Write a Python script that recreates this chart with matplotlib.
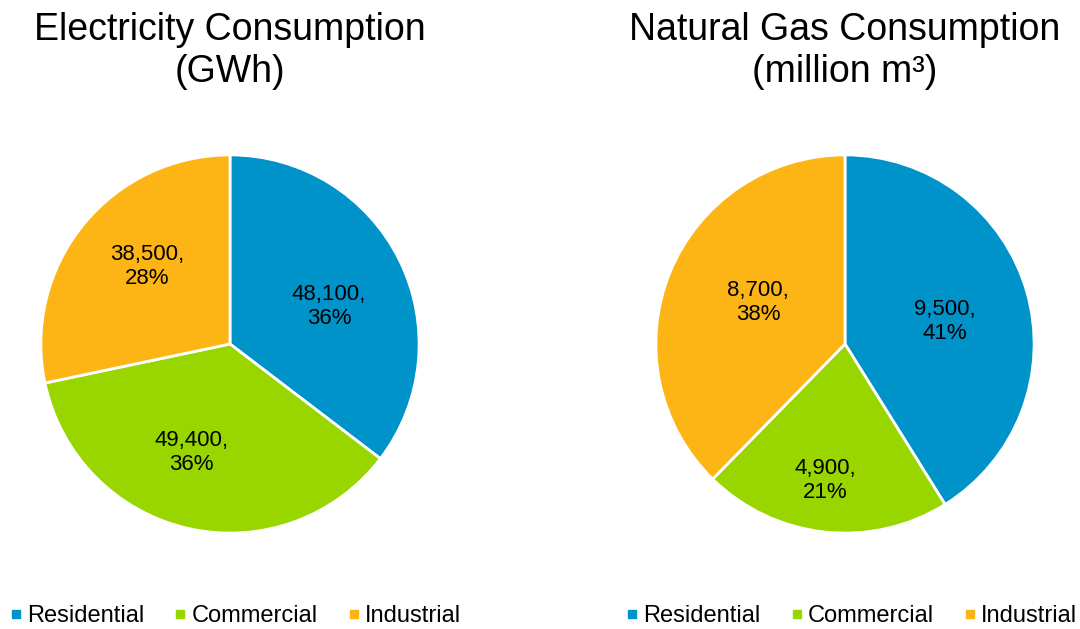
import matplotlib
matplotlib.use("Agg")
import math
import matplotlib.pyplot as plt
from matplotlib.lines import Line2D

plt.rcParams["font.family"] = ["Liberation Sans", "DejaVu Sans"]

CATEGORIES = ["Residential", "Commercial", "Industrial"]
COLORS = ["#0093C9", "#99D600", "#FDB515"]

ELEC_TITLE = "Electricity Consumption\n(GWh)"
ELEC_VALUES = [48100, 49400, 38500]
ELEC_PCT = ["36%", "36%", "28%"]

GAS_TITLE = "Natural Gas Consumption\n(million m³)"
GAS_VALUES = [9500, 4900, 8700]
GAS_PCT = ["41%", "21%", "38%"]

W, H = 1080, 629


def draw_pie(fig, cx, legend_x, title, values, pcts, label_r, label_dang):
    r = 191
    ax = fig.add_axes([(cx - r) / W, (H - 344 - r) / H, 2 * r / W, 2 * r / H])
    wedges, texts = ax.pie(
        values,
        colors=COLORS,
        startangle=90,
        counterclock=False,
        radius=1.0,
        wedgeprops={"edgecolor": "white", "linewidth": 2.0},
        labels=[f"{v:,},\n{p}" for v, p in zip(values, pcts)],
        labeldistance=0.6,
        textprops={"fontsize": 16, "color": "black", "ha": "center", "va": "center",
                   "linespacing": 1.2},
    )
    # nudge labels towards the spots Excel picked
    for t, k, da in zip(texts, label_r, label_dang):
        x, y = t.get_position()
        ang = math.atan2(y, x) + math.radians(da)
        t.set_position((k * math.cos(ang), k * math.sin(ang)))
        t.set_ha("center")
        t.set_va("center")
    ax.set_xlim(-1.01, 1.01)
    ax.set_ylim(-1.01, 1.01)
    ax.set_aspect("equal")
    fig.text(cx / W, 1 - 12 / H, title, ha="center", va="top", fontsize=27,
             linespacing=1.2)
    handles = [Line2D([], [], marker="s", linestyle="none", markersize=5.8,
                      markerfacecolor=c, markeredgecolor=c) for c in COLORS]
    fig.legend(handles, CATEGORIES, loc="center", bbox_to_anchor=(legend_x / W, 1 - 616 / H),
               ncol=3, frameon=False, fontsize=17, handlelength=0.5,
               handletextpad=0.22, columnspacing=1.28, borderpad=0, borderaxespad=0)


fig = plt.figure(figsize=(W / 100, H / 100), dpi=100)
draw_pie(fig, 230, 235.5, ELEC_TITLE, ELEC_VALUES, ELEC_PCT,
         [0.56, 0.61, 0.6], [-5.5, -6.7, -4.2])
draw_pie(fig, 845, 852, GAS_TITLE, GAS_VALUES, GAS_PCT,
         [0.54, 0.73, 0.51], [-3.2, -2.0, -3.3])
fig.savefig("out.png", dpi=100, facecolor="white")
